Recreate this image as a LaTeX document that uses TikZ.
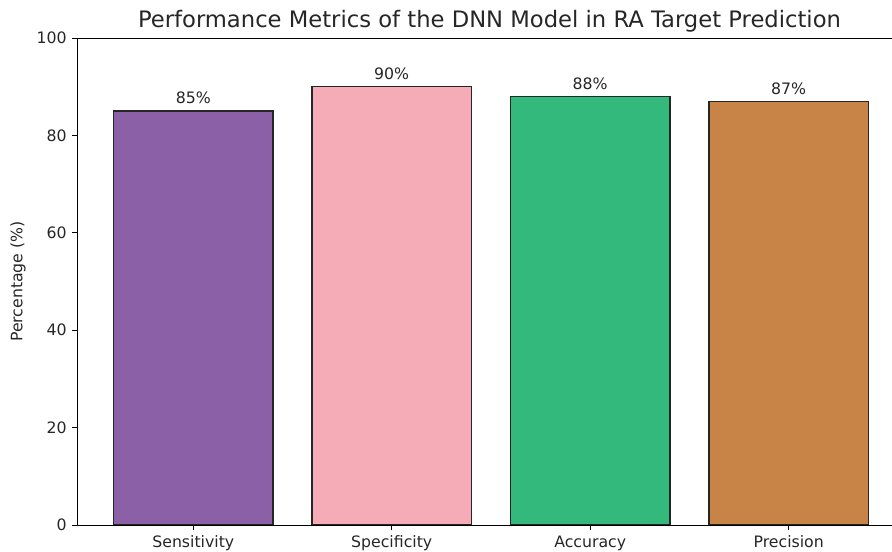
\documentclass[tikz,border=0pt]{standalone}
\usepackage{fontspec}
\setmainfont{DejaVu Sans}
\definecolor{sensc}{RGB}{139,96,167}
\definecolor{specc}{RGB}{245,172,183}
\definecolor{accc}{RGB}{51,185,123}
\definecolor{precc}{RGB}{200,131,70}
\definecolor{inkc}{RGB}{38,38,38}
\tikzset{
  bar/.style={draw=black!85, line width=0.9pt},
  spine/.style={draw=black, line width=0.65pt},
  ticklab/.style={font=\fontsize{11.8}{14}\selectfont, text=inkc, inner sep=0pt},
  vallab/.style={font=\fontsize{11.8}{14}\selectfont, text=inkc, inner sep=0pt, anchor=base}
}
\begin{document}
\begin{tikzpicture}[x=0.75pt, y=0.75pt]
      \useasboundingbox (0, 0) rectangle (892, 552);
      % bars
      \draw [bar, fill=sensc] (113.5, 27) rectangle (273, 440.9) node (sens) [pos=.5] {};
      \draw [bar, fill=specc] (312, 27) rectangle (471.5, 465.3) node (spec) [pos=.5] {};
      \draw [bar, fill=accc] (510.5, 27) rectangle (670, 455.6) node (acc) [pos=.5] {};
      \draw [bar, fill=precc] (709, 27) rectangle (868.5, 450.7) node (prec) [pos=.5] {};
      % value labels
      \node (v85) [vallab] at (193.3, 448) {85\%};
      \node (v90) [vallab] at (391.7, 472.4) {90\%};
      \node (v88) [vallab] at (590.2, 462.7) {88\%};
      \node (v87) [vallab] at (788.7, 457.8) {87\%};
      % axes
      \draw [spine] (77, 514) -- (77, 27) -- (892, 27)
                    (77, 514) -- (892, 514);
      \draw [spine] (72, 27) -- (77, 27)
                    (72, 124.4) -- (77, 124.4)
                    (72, 221.8) -- (77, 221.8)
                    (72, 319.2) -- (77, 319.2)
                    (72, 416.6) -- (77, 416.6)
                    (72, 514) -- (77, 514);
      \draw [spine] (193.3, 27) -- (193.3, 22)
                    (391.7, 27) -- (391.7, 22)
                    (590.2, 27) -- (590.2, 22)
                    (788.7, 27) -- (788.7, 22);
      \node (y0) [ticklab, anchor=east] at (67, 27) {0};
      \node (y20) [ticklab, anchor=east] at (67, 124.4) {20};
      \node (y40) [ticklab, anchor=east] at (67, 221.8) {40};
      \node (y60) [ticklab, anchor=east] at (67, 319.2) {60};
      \node (y80) [ticklab, anchor=east] at (67, 416.6) {80};
      \node (y100) [ticklab, anchor=east] at (67, 514) {100};
      \node (xsens) [ticklab, anchor=north] at (193.3, 16.5) {Sensitivity};
      \node (xspec) [ticklab, anchor=north] at (391.7, 16.5) {Specificity};
      \node (xacc) [ticklab, anchor=north] at (590.2, 16.5) {Accuracy};
      \node (xprec) [ticklab, anchor=north] at (788.7, 16.5) {Precision};
      \node (ylab) [ticklab, rotate=90] at (18, 270.5) {Percentage (\%)};
      \node (title) [font=\fontsize{17}{20}\selectfont, text=inkc, inner sep=0pt] at (489.5, 530.5) {Performance Metrics of the DNN Model in RA Target Prediction};
\end{tikzpicture}
\end{document}
